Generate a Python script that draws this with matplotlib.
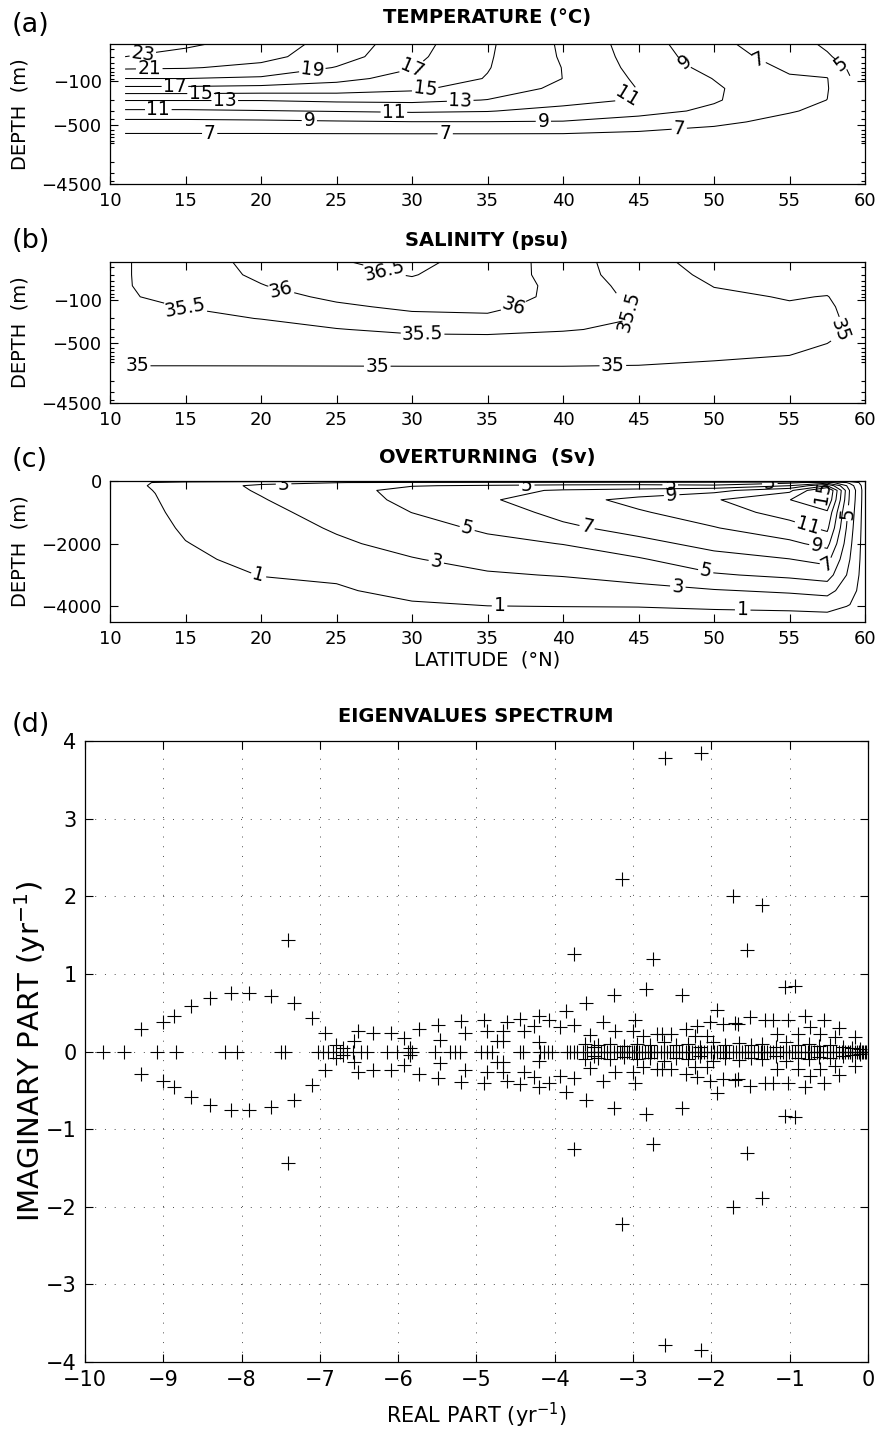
import numpy as np
import matplotlib
matplotlib.use("Agg")
import matplotlib.pyplot as plt
from matplotlib.ticker import FixedLocator, NullFormatter

plt.rcParams['font.family'] = ['DejaVu Sans']
plt.rcParams['mathtext.fontset'] = 'dejavusans'
plt.rcParams['axes.unicode_minus'] = True

# ---------------- data ----------------
# (a) temperature (deg C), rows = depth levels, columns = latitudes
temp_lat = [11, 15, 20, 25, 30, 35, 40, 45, 50, 55, 57.5, 59]
temp_depth = [25, 40, 60, 90, 130, 200, 300, 450, 700, 1200, 4500]
temp_values = [
    [24.8, 23.4, 22.0, 20.3, 17.8, 15.3, 12.7, 10.0, 7.5, 5.8, 4.7, 4.0],
    [23.0, 22.2, 21.6, 19.9, 17.5, 15.2, 12.8, 10.2, 7.9, 6.2, 5.2, 4.3],
    [21.3, 21.15, 20.5, 18.9, 17.1, 15.1, 12.95, 10.4, 8.4, 6.7, 6.4, 4.7],
    [19.0, 19.0, 18.7, 17.55, 16.3, 14.9, 12.98, 10.7, 8.95, 7.2, 7.05, 5.1],
    [16.5, 16.5, 16.3, 16.1, 15.4, 14.0, 12.6, 10.95, 9.25, 7.5, 7.1, 5.5],
    [13.1, 13.1, 13.1, 13.4, 13.5, 12.95, 11.8, 10.8, 9.2, 7.4, 6.99, 5.7],
    [10.7, 10.7, 10.9, 11.1, 11.3, 11.1, 10.3, 9.7, 8.6, 7.1, 6.7, 5.8],
    [8.5, 8.5, 8.6, 8.8, 8.95, 8.95, 8.9, 8.2, 7.3, 6.6, 6.4, 5.8],
    [6.95, 6.95, 6.95, 6.97, 6.99, 6.99, 6.97, 6.7, 6.5, 6.2, 6.1, 5.7],
    [6.2, 6.2, 6.2, 6.2, 6.2, 6.2, 6.2, 6.1, 6.0, 5.9, 5.8, 5.6],
    [5.5, 5.5, 5.5, 5.5, 5.5, 5.5, 5.5, 5.5, 5.5, 5.5, 5.5, 5.5],
]
temp_levels = [5, 7, 9, 11, 13, 15, 17, 19, 21, 23]

# (b) salinity (psu)
sal_lat = [11, 15, 20, 25, 30, 35, 40, 45, 50, 55, 57.5, 59]
sal_depth = [25, 40, 60, 90, 130, 200, 300, 450, 700, 1200, 4500]
sal_values = [
    [35.47, 35.75, 36.15, 36.47, 36.62, 36.30, 35.78, 35.15, 34.85, 34.75, 34.70, 34.65],
    [35.47, 35.75, 36.08, 36.38, 36.52, 36.28, 35.80, 35.20, 34.92, 34.82, 34.80, 34.72],
    [35.47, 35.72, 35.98, 36.25, 36.40, 36.24, 35.88, 35.28, 34.99, 34.90, 34.92, 34.80],
    [35.46, 35.62, 35.85, 36.08, 36.25, 36.18, 35.90, 35.36, 35.06, 34.98, 35.01, 34.88],
    [35.43, 35.51, 35.71, 35.93, 36.08, 36.10, 35.82, 35.42, 35.12, 35.03, 35.04, 34.93],
    [35.37, 35.40, 35.51, 35.70, 35.88, 35.92, 35.70, 35.49, 35.16, 35.06, 35.05, 34.96],
    [35.28, 35.30, 35.34, 35.48, 35.60, 35.62, 35.53, 35.42, 35.15, 35.06, 35.04, 34.97],
    [35.19, 35.20, 35.22, 35.27, 35.35, 35.36, 35.34, 35.30, 35.10, 35.04, 35.01, 34.96],
    [35.10, 35.10, 35.11, 35.13, 35.16, 35.16, 35.16, 35.14, 35.04, 35.01, 34.97, 34.94],
    [34.99, 34.99, 34.99, 34.99, 34.99, 34.99, 34.99, 34.98, 34.97, 34.96, 34.93, 34.92],
    [34.90, 34.90, 34.90, 34.90, 34.90, 34.90, 34.90, 34.90, 34.90, 34.90, 34.90, 34.90],
]
sal_levels = [35, 35.5, 36, 36.5]

# (c) overturning streamfunction (Sv)
moc_lat = [11, 13, 15, 20, 25, 30, 35, 40, 45, 50, 55, 57.5, 59, 60]
moc_depth = [0, 50, 150, 300, 600, 1000, 1500, 2000, 2500, 3000, 3500, 4000, 4500]
moc_values = [
    [0, 0, 0, 0, 0, 0, 0, 0, 0, 0, 0, 0, 0, 0],
    [0.3, 1.1, 1.7, 2.6, 2.95, 3.3, 3.5, 3.6, 3.7, 3.8, 4.5, 6.0, 2.5, 0],
    [0.45, 1.2, 2.2, 3.25, 3.9, 4.9, 5.2, 5.5, 5.6, 5.3, 7.0, 11.0, 4.0, 0],
    [0.5, 1.05, 2.1, 3.15, 4.2, 5.7, 6.4, 7.2, 7.6, 8.4, 10.5, 15.8, 4.8, 0],
    [0.45, 0.9, 1.8, 2.9, 4.0, 5.5, 6.75, 8.2, 9.6, 10.8, 12.95, 15.0, 4.6, 0],
    [0.4, 0.75, 1.5, 2.5, 3.7, 5.02, 6.0, 7.6, 8.8, 10.0, 11.8, 12.7, 4.2, 0],
    [0.35, 0.6, 1.2, 2.1, 3.2, 4.3, 5.3, 6.6, 7.7, 8.9, 10.2, 11.4, 3.8, 0],
    [0.3, 0.5, 0.95, 1.7, 2.7, 3.6, 4.5, 5.05, 6.4, 7.6, 8.6, 9.6, 3.4, 0],
    [0.25, 0.4, 0.75, 1.35, 2.0, 2.9, 3.6, 4.1, 4.8, 6.3, 6.95, 7.6, 3.0, 0],
    [0.2, 0.3, 0.55, 1.03, 1.25, 2.2, 2.8, 3.1, 3.7, 4.8, 5.4, 5.9, 2.5, 0],
    [0.13, 0.2, 0.35, 0.7, 0.8, 1.5, 1.9, 2.1, 2.4, 2.85, 3.3, 3.7, 1.8, 0],
    [0.06, 0.1, 0.18, 0.35, 0.4, 0.75, 0.97, 1.02, 1.05, 1.25, 1.4, 1.6, 0.9, 0],
    [0, 0, 0, 0, 0, 0, 0, 0, 0, 0, 0, 0, 0, 0],
]
moc_levels = [1, 3, 5, 7, 9, 11, 13, 15]

# (d) eigenvalue spectrum (yr^-1): complex pairs (upper half) and real eigenvalues
pair_re = [-9.29, -9.00, -8.86, -8.64, -8.40, -8.14, -7.90, -7.63, -7.33, -7.10, -6.94,
           -7.41, -3.76, -3.14, -2.75, -2.59, -2.13, -1.72, -1.36, -1.54, -1.06, -0.93,
           -3.25, -2.84, -2.38, -3.60, -3.86, -1.93, -2.98, -3.39, -1.51, -1.31, -1.21,
           -1.02, -0.80, -0.56, -0.37, -0.16,
           -6.79, -6.57, -6.51, -6.32, -6.09, -5.93, -5.74, -5.49, -5.47, -5.20, -5.15,
           -4.91, -4.87, -4.61, -4.66, -4.44, -4.39, -4.20, -4.08, -4.27, -3.93, -3.76,
           -4.66, -4.20, -3.55, -3.23, -3.00, -4.74,
           -2.02, -2.19, -2.32, -1.85, -1.70, -1.66, -0.74, -2.63, -2.70, -2.51, -2.21,
           -2.06, -1.16, -0.89, -0.61, -0.42, -2.87,
           -3.62, -3.50, -3.45, -3.30, -3.12, -2.95, -2.78, -2.60, -2.45, -2.30, -2.15,
           -1.98, -1.82, -1.65, -1.50, -1.35, -1.18, -1.05, -0.90, -0.75, -0.62, -0.48,
           -0.32, -0.20, -0.10, -6.70, -5.85]
pair_im = [0.29, 0.38, 0.46, 0.58, 0.69, 0.76, 0.76, 0.72, 0.63, 0.43, 0.24,
           1.43, 1.25, 2.22, 1.19, 3.78, 3.85, 2.00, 1.89, 1.31, 0.83, 0.85,
           0.73, 0.80, 0.73, 0.62, 0.52, 0.53, 0.41, 0.38, 0.44, 0.40, 0.40,
           0.41, 0.46, 0.41, 0.30, 0.19,
           0.08, 0.14, 0.26, 0.24, 0.24, 0.18, 0.29, 0.34, 0.15, 0.39, 0.24,
           0.40, 0.27, 0.38, 0.27, 0.42, 0.27, 0.46, 0.41, 0.33, 0.31, 0.34,
           0.13, 0.12, 0.21, 0.27, 0.27, 0.13,
           0.38, 0.33, 0.29, 0.36, 0.37, 0.35, 0.32, 0.23, 0.22, 0.22, 0.20,
           0.20, 0.23, 0.23, 0.22, 0.19, 0.20,
           0.10, 0.06, 0.08, 0.10, 0.07, 0.10, 0.09, 0.12, 0.08, 0.10, 0.06,
           0.12, 0.09, 0.11, 0.08, 0.10, 0.06, 0.12, 0.09, 0.10, 0.07, 0.09,
           0.06, 0.05, 0.03, 0.05, 0.05]
real_eig = [-9.77, -9.50, -9.08, -8.84, -8.21, -8.06, -7.50, -7.45, -7.02, -6.96, -6.90,
            -6.83, -6.74, -6.66, -6.58, -6.47, -6.40, -6.14, -6.02, -5.87, -5.82, -5.53,
            -5.34, -5.28, -5.21, -4.94, -4.86, -4.80, -4.44, -4.40, -4.19, -4.14, -4.09,
            -4.04, -3.85, -3.80, -3.76, -3.72, -3.64, -3.59, -3.54, -3.50, -3.45, -3.41,
            -3.37, -3.33, -3.29, -3.25, -3.21, -3.17, -3.14, -3.11, -3.08, -3.05, -3.02,
            -2.99, -2.96, -2.93, -2.89, -2.85, -2.81, -2.77, -2.73, -2.69, -2.65, -2.61,
            -2.57, -2.53, -2.49, -2.45, -2.41, -2.37, -2.33, -2.29, -2.25, -2.21, -2.17,
            -2.13, -2.09, -2.05, -2.01, -1.97, -1.93, -1.89, -1.85, -1.81, -1.77, -1.73,
            -1.69, -1.65, -1.61, -1.57, -1.53, -1.49, -1.45, -1.41, -1.37, -1.33, -1.29,
            -1.25, -1.21, -1.17, -1.13, -1.09, -1.05, -1.01, -0.97, -0.93, -0.89, -0.85,
            -0.81, -0.77, -0.73, -0.69, -0.65, -0.61, -0.57, -0.53, -0.49, -0.45, -0.41,
            -0.37, -0.33, -0.29, -0.26, -0.23, -0.20, -0.17, -0.14, -0.11, -0.08, -0.06,
            -0.04, -0.02]

# ---------------- figure ----------------
W, H = 881, 1429
fig = plt.figure(figsize=(W / 100, H / 100), dpi=100)


def rect(l, t, r, b):
    return [l / W, 1 - b / H, (r - l) / W, (b - t) / H]


TICK = 13
LAB = 14
CLAB = 13.5


def style(ax, ts=TICK):
    for s in ax.spines.values():
        s.set_linewidth(0.9)
    ax.tick_params(which='both', direction='in', top=True, right=True,
                   labelsize=ts, width=0.8)
    ax.tick_params(which='major', length=6, pad=6)
    ax.tick_params(which='minor', length=3)


minor_depths = [30, 40, 50, 60, 70, 80, 90, 200, 300, 400, 600, 700, 800, 900,
                1000, 2000, 3000, 4000]


def depth_axis(ax):
    ax.set_ylim(np.log10(4500), np.log10(25))
    ax.set_yticks(np.log10([100, 500, 4500]))
    ax.set_yticklabels(['\u2212100', '\u2212500', '\u22124500'])
    ax.yaxis.set_minor_locator(FixedLocator(np.log10(minor_depths)))
    ax.yaxis.set_minor_formatter(NullFormatter())
    ax.set_xlim(10, 60)
    ax.set_xticks(range(10, 61, 5))


# ---- (a) temperature
axa = fig.add_axes(rect(110, 44, 865, 184))
LA, ZA = np.meshgrid(temp_lat, np.log10(temp_depth))
csa = axa.contour(LA, ZA, np.array(temp_values), levels=temp_levels,
                  colors='k', linewidths=0.75)
man_a = [(12.2, 41), (12.6, 66), (23.4, 66), (14.3, 122), (30.1, 71), (16.0, 168),
         (30.9, 156), (17.6, 235), (33.2, 235), (13.2, 293), (28.8, 330), (44.3, 181),
         (23.2, 459), (38.7, 459), (48.0, 52), (16.6, 695), (32.2, 695), (47.7, 580),
         (52.9, 48), (58.3, 58)]
axa.clabel(csa, fmt='%g', fontsize=CLAB, inline=True, inline_spacing=2,
           manual=[(x, np.log10(d)) for x, d in man_a])
depth_axis(axa)
style(axa)

# ---- (b) salinity
axb = fig.add_axes(rect(110, 262, 865, 403))
LB, ZB = np.meshgrid(sal_lat, np.log10(sal_depth))
csb = axb.contour(LB, ZB, np.array(sal_values), levels=sal_levels,
                  colors='k', linewidths=0.75)
man_b = [(28.1, 41), (21.3, 76), (36.8, 150), (15.0, 134), (30.7, 355), (44.4, 150),
         (11.8, 1190), (27.7, 1190), (43.3, 1100), (58.2, 294)]
axb.clabel(csb, fmt='%g', fontsize=CLAB, inline=True, inline_spacing=2,
           manual=[(x, np.log10(d)) for x, d in man_b])
depth_axis(axb)
style(axb)

# ---- (c) overturning
axc = fig.add_axes(rect(110, 481, 865, 622))
LC, ZC = np.meshgrid(moc_lat, -np.array(moc_depth, dtype=float))
csc = axc.contour(LC, ZC, np.array(moc_values), levels=moc_levels,
                  colors='k', linewidths=0.75)
man_c = [(19.8, -3080), (35.8, -3940), (51.9, -4160), (21.5, -190), (31.6, -2600),
         (47.6, -3400), (33.6, -1620), (49.5, -2760), (37.6, -190), (53.7, -127),
         (41.6, -1460), (57.5, -2670), (47.1, -130), (56.8, -2100), (47.2, -508),
         (56.2, -1460), (58.7, -1020), (57.3, -350)]
axc.clabel(csc, fmt='%g', fontsize=CLAB, inline=True, inline_spacing=2, manual=man_c)
axc.set_xlim(10, 60)
axc.set_xticks(range(10, 61, 5))
axc.set_ylim(-4500, 0)
axc.set_yticks([0, -2000, -4000])
style(axc)

# ---- (d) eigenvalues
axd = fig.add_axes(rect(85, 741, 868, 1362))
axd.plot(real_eig, [0.0] * len(real_eig), '+', color='k', ms=9.5, mew=0.8)
axd.plot(pair_re, pair_im, '+', color='k', ms=9.5, mew=0.8)
axd.plot(pair_re, [-v for v in pair_im], '+', color='k', ms=9.5, mew=0.8)
axd.set_xlim(-10, 0)
axd.set_ylim(-4, 4)
axd.set_xticks(range(-10, 1))
axd.set_yticks(range(-4, 5))
axd.grid(True, color='0.3', linestyle=(0, (1, 9)), linewidth=0.7)
axd.set_axisbelow(True)
style(axd, ts=15)

# ---- texts
def ftext(x, y, s, **kw):
    fig.text(x / W, 1 - y / H, s, **kw)

for (x, y, s) in [(12, 25, '(a)'), (12, 241, '(b)'), (12, 460, '(c)'), (12, 725, '(d)')]:
    ftext(x, y, s, fontsize=19.5, ha='left', va='center')

ftext(487, 17, 'TEMPERATURE (\u00b0C)', fontsize=14, fontweight='bold', ha='center', va='center')
ftext(487, 240, 'SALINITY (psu)', fontsize=14, fontweight='bold', ha='center', va='center')
ftext(487, 457, 'OVERTURNING  (Sv)', fontsize=14, fontweight='bold', ha='center', va='center')
ftext(476, 716, 'EIGENVALUES SPECTRUM', fontsize=14, fontweight='bold', ha='center', va='center')

for yc in [114, 332, 551]:
    ftext(20, yc, 'DEPTH  (m)', fontsize=LAB, rotation=90, ha='center', va='center')
ftext(487, 660, 'LATITUDE  (\u00b0N)', fontsize=LAB, ha='center', va='center')
ftext(30, 1051, 'IMAGINARY PART (yr$^{-1}$)', fontsize=21, rotation=90, ha='center', va='center')
ftext(476, 1415, 'REAL PART (yr$^{-1}$)', fontsize=15, ha='center', va='center')

fig.savefig('out.png', dpi=100)
